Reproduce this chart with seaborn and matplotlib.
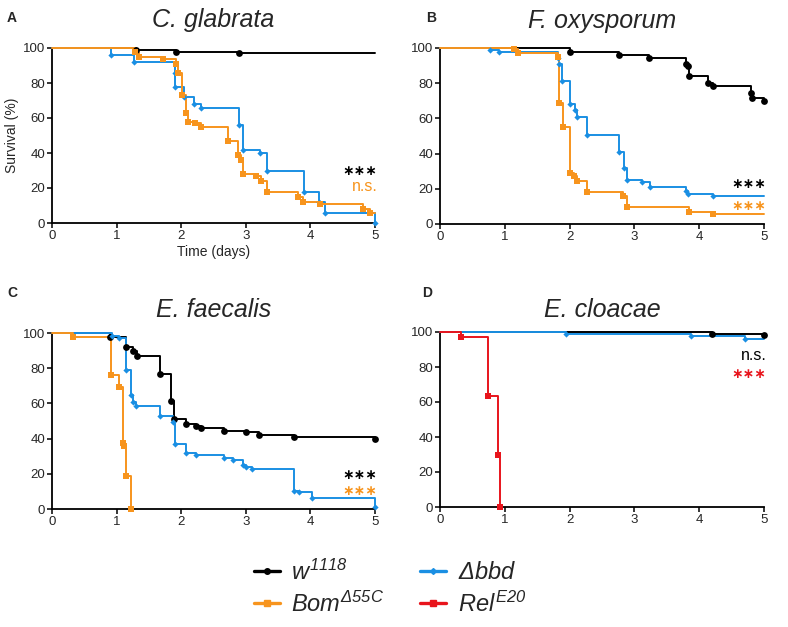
import matplotlib
matplotlib.use("Agg")
import matplotlib.pyplot as plt
from matplotlib.lines import Line2D
import seaborn as sns

# survival data: event times (days) and survival (%) right after each step
a_w_t = [1.3, 1.92, 2.9]
a_w_s = [99, 98, 97]
a_bom_t = [1.28, 1.34, 1.72, 1.92, 1.95, 2.02, 2.07, 2.11, 2.21, 2.31, 2.73, 2.88, 2.92, 2.96,
           3.16, 3.23, 3.33, 3.81, 3.89, 4.15, 4.81, 4.93]
a_bom_s = [98, 95, 94, 91, 86, 73, 63, 58, 57, 55, 47, 39, 36, 28, 27, 24, 18, 15, 12, 11, 8, 6]
a_bbd_t = [0.92, 1.27, 1.90, 1.91, 2.05, 2.2, 2.3, 2.9, 2.95, 3.22, 3.33, 3.9, 4.13, 4.22, 5.0]
a_bbd_s = [96, 92, 86, 78, 72, 68, 66, 56, 42, 40, 30, 18, 12, 6, 0]

b_w_t = [2.0, 2.76, 3.23, 3.8, 3.82, 3.84, 4.13, 4.21, 4.8, 4.82, 5.0]
b_w_s = [97.5, 96, 94.5, 91, 89.5, 84, 80, 78.5, 74.5, 71.5, 70]
b_bom_t = [1.14, 1.21, 1.82, 1.83, 1.9, 2.0, 2.07, 2.11, 2.27, 2.83, 2.88, 3.84, 4.22]
b_bom_s = [99.5, 97, 95, 69, 55, 29, 27, 24.5, 18, 16, 9.5, 7, 5.5]
b_bbd_t = [0.77, 0.91, 1.82, 1.83, 1.89, 2.0, 2.08, 2.12, 2.27, 2.77, 2.84, 2.88, 3.12, 3.24,
           3.8, 3.82, 4.22]
b_bbd_s = [99, 97.5, 94.5, 91, 81, 68, 65, 61, 50.5, 41, 32, 25, 24, 21, 18.5, 17, 16]

c_w_t = [0.9, 1.15, 1.26, 1.31, 1.67, 1.84, 1.89, 2.08, 2.23, 2.3, 2.66, 3.0, 3.2, 3.74, 5.0]
c_w_s = [97.5, 92, 89.5, 87, 76.5, 61.5, 51, 48.5, 47, 46, 44.5, 43.5, 42, 41, 39.5]
c_bom_t = [0.33, 0.92, 1.04, 1.1, 1.11, 1.15, 1.23]
c_bom_s = [98, 76, 69.5, 37.5, 36, 19, 0]
c_bbd_t = [0.93, 1.04, 1.14, 1.22, 1.26, 1.3, 1.67, 1.87, 1.9, 2.07, 2.23, 2.66, 2.8, 2.96,
           3.0, 3.09, 3.74, 3.82, 4.02, 5.0]
c_bbd_s = [98.5, 97, 79, 65, 61, 58.5, 53, 49.5, 37, 32, 30.5, 29, 28, 25, 24, 22.5, 10.5,
           9.5, 6.5, 1]

d_w_t = [4.2, 5.0]
d_w_s = [99, 98.5]
d_bbd_t = [1.94, 3.87, 4.7]
d_bbd_s = [99, 97.5, 96]
d_rel_t = [0.32, 0.74, 0.89, 0.92]
d_rel_s = [97, 63.5, 29.5, 0]

titles = ["C. glabrata", "F. oxysporum", "E. faecalis", "E. cloacae"]
sig_a = [("***", "black"), ("n.s.", "orange")]
sig_b = [("***", "black"), ("***", "orange")]
sig_c = [("***", "black"), ("***", "orange")]
sig_d = [("n.s.", "black"), ("***", "red")]

colors = {"black": "#000000", "orange": "#F7941D", "blue": "#1A8FE3", "red": "#E8141C"}
markers = {"black": ("o", 24), "orange": ("s", 22), "blue": ("D", 10), "red": ("s", 22)}

sns.set_style("ticks")
plt.rcParams["font.family"] = ["Liberation Sans", "DejaVu Sans"]
plt.rcParams["mathtext.fontset"] = "custom"
plt.rcParams["mathtext.rm"] = "Liberation Sans:italic"
plt.rcParams["mathtext.it"] = "Liberation Sans:italic"
plt.rcParams["mathtext.default"] = "it"

fig = plt.figure(figsize=(7.88, 6.27), dpi=100)
W, H = 788, 627


def axes_px(x0, x1, y0, y1):
    return fig.add_axes([x0 / W, 1 - y1 / H, (x1 - x0) / W, (y1 - y0) / H])


def draw_series(ax, t, s, key):
    xs = [0] + list(t)
    ys = [100] + list(s)
    if xs[-1] < 5 and ys[-1] > 0:
        xs.append(5)
        ys.append(ys[-1])
    sns.lineplot(x=xs, y=ys, drawstyle="steps-post", estimator=None, sort=False,
                 color=colors[key], lw=1.4, ax=ax, clip_on=False, zorder=3)
    m, sz = markers[key]
    sns.scatterplot(x=list(t), y=list(s), marker=m, s=sz, color=colors[key],
                    linewidth=0, ax=ax, clip_on=False, zorder=4)


axA = axes_px(52, 375, 48, 223)
axB = axes_px(440, 764, 48, 224)
axC = axes_px(52, 375, 333, 509)
axD = axes_px(440, 764, 332, 507)

draw_series(axA, a_w_t, a_w_s, "black")
draw_series(axA, a_bbd_t, a_bbd_s, "blue")
draw_series(axA, a_bom_t, a_bom_s, "orange")

draw_series(axB, b_w_t, b_w_s, "black")
draw_series(axB, b_bbd_t, b_bbd_s, "blue")
draw_series(axB, b_bom_t, b_bom_s, "orange")

draw_series(axC, c_w_t, c_w_s, "black")
draw_series(axC, c_bbd_t, c_bbd_s, "blue")
draw_series(axC, c_bom_t, c_bom_s, "orange")

draw_series(axD, d_w_t, d_w_s, "black")
draw_series(axD, d_bbd_t, d_bbd_s, "blue")
draw_series(axD, d_rel_t, d_rel_s, "red")

sig_pos = [(29.7, 21.1), (22.7, 10.5), (19.3, 10.5), (86.7, 76.2)]
title_y = [20, 21, 310, 310]
axes = [axA, axB, axC, axD]
for i, ax in enumerate(axes):
    ax.set_xlim(0, 5)
    ax.set_ylim(0, 100)
    ax.set_xticks(range(0, 6))
    ax.set_yticks(range(0, 101, 20))
    ax.tick_params(labelsize=9.5, length=3.5, width=1.1, pad=1.5, color="black")
    sns.despine(ax=ax)
    for sp in ("left", "bottom"):
        ax.spines[sp].set_linewidth(1.3)
        ax.spines[sp].set_color("black")
    ax.set_xlabel("")
    ax.set_ylabel("")
    bb = ax.get_position()
    fig.text((bb.x0 + bb.x1) / 2, 1 - title_y[i] / H, titles[i], fontsize=18,
             style="italic", ha="center", va="center")
    sigs = [sig_a, sig_b, sig_c, sig_d][i]
    for (txt, key), y in zip(sigs, sig_pos[i]):
        if txt == "***":
            # asterisk operator sits centred on the line, like the reference stars
            ax.text(5.04, y, "\u2217\u2217\u2217", color=colors[key], fontsize=10,
                    family="DejaVu Sans", weight="bold", ha="right", va="center")
        else:
            ax.text(5.04, y, txt, color=colors[key], fontsize=11.5, ha="right", va="center")

fig.text(7 / W, 1 - 18 / H, "A", fontsize=10, weight="bold", va="center")
fig.text(426 / W, 1 - 18 / H, "B", fontsize=10, weight="bold", va="center")
fig.text(7 / W, 1 - 293 / H, "C", fontsize=10, weight="bold", va="center")
fig.text(422 / W, 1 - 293 / H, "D", fontsize=10, weight="bold", va="center")

axA.set_ylabel("Survival (%)", fontsize=10, labelpad=3)
axA.set_xlabel("Time (days)", fontsize=10, labelpad=2)

labels = [r"$w^{1118}$", r"$Bom^{Δ55C}$", r"$Δbbd$", r"$Rel^{E20}$"]
keys = ["black", "orange", "blue", "red"]
handles = [Line2D([0], [0], color=colors[k], lw=2.4, marker=markers[k][0],
                  markersize=4 if k != "blue" else 3) for k in keys]
fig.legend(handles, labels, loc="center", bbox_to_anchor=(390 / W, 1 - 588 / H), ncol=2,
           frameon=False, fontsize=17, handlelength=1.1, handletextpad=0.5,
           columnspacing=1.5, labelspacing=0.3)

fig.savefig("out.png", dpi=100)
